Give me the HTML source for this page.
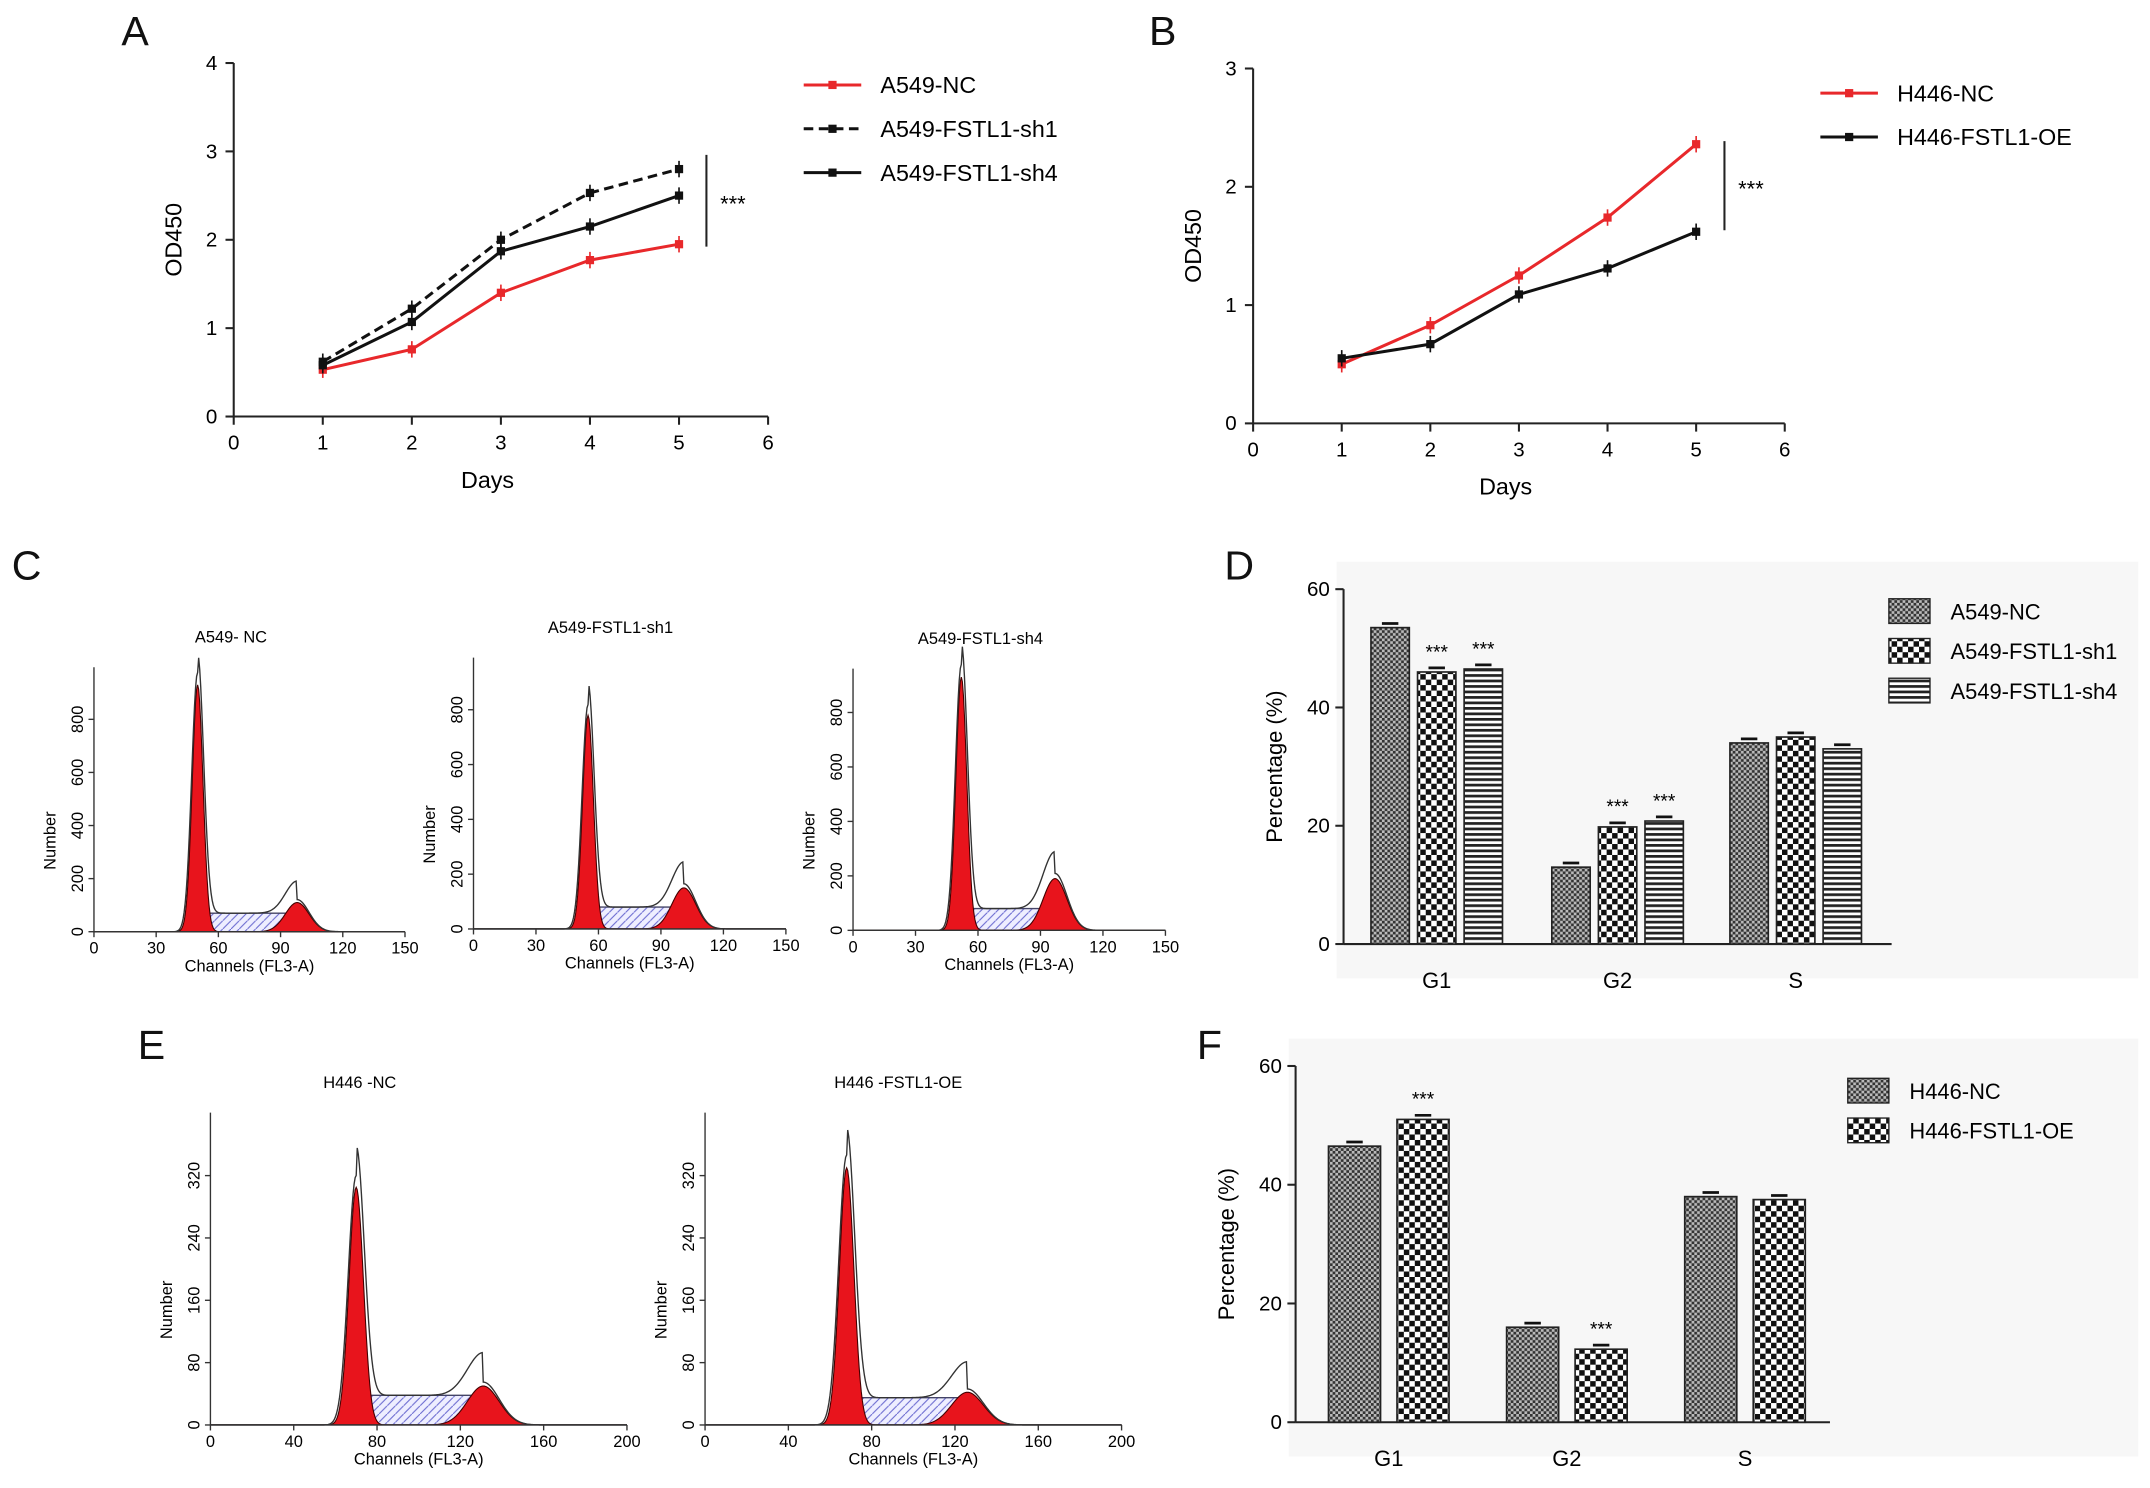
<!DOCTYPE html>
<html><head><meta charset="utf-8"><style>
html,body{margin:0;padding:0;background:#fff}
svg{display:block;font-family:"Liberation Sans",Arial,sans-serif}
</style></head><body>
<svg id="fig" width="2150" height="1488" viewBox="0 0 1568 1086" xmlns="http://www.w3.org/2000/svg">
<defs>
<pattern id="pNC" width="4" height="4" patternUnits="userSpaceOnUse"><rect width="4" height="4" fill="#bbb"/><rect width="2" height="2" fill="#333"/><rect x="2" y="2" width="2" height="2" fill="#333"/></pattern>
<pattern id="pSH1" width="8" height="8" patternUnits="userSpaceOnUse"><rect width="8" height="8" fill="#fff"/><rect width="4" height="4" fill="#111"/><rect x="4" y="4" width="4" height="4" fill="#111"/></pattern>
<pattern id="pSH4" width="4" height="4" patternUnits="userSpaceOnUse"><rect width="4" height="4" fill="#fff"/><rect width="4" height="2" fill="#222"/></pattern>
<pattern id="pS" width="6" height="6" patternUnits="userSpaceOnUse"><rect width="6" height="6" fill="#eef"/><path d="M0 6L6 0" stroke="#6a6ad0" stroke-width="0.8"/></pattern>
</defs>
<g id="root"></g>
</svg>
<script>
// ---- Data ----
const days = [1,2,3,4,5];
const a549NC  = [0.53,0.76,1.40,1.77,1.95];
const a549sh1 = [0.62,1.22,2.00,2.53,2.80];
const a549sh4 = [0.58,1.07,1.87,2.15,2.50];
const h446NC  = [0.50,0.83,1.25,1.74,2.36];
const h446OE  = [0.55,0.67,1.09,1.31,1.62];
const phases = ["G1","G2","S"];
const dNC  = [53.5,13.0,34.0];
const dSH1 = [46.0,19.8,35.0];
const dSH4 = [46.5,20.8,33.0];
const fNC  = [46.5,16.0,38.0];
const fOE  = [51.0,12.3,37.5];
// flow histogram fit params: [G1 channel, G1 height, G2 channel, G2 height, S level]
const histC1 = [50,930,98,110,70];
const histC2 = [55,780,101,150,80];
const histC3 = [52,930,97,190,80];
const histE1 = [70,305,131,50,38];
const histE2 = [68,330,126,42,35];

const NS="http://www.w3.org/2000/svg";
const root=document.getElementById('root');
function el(tag,attrs,parent,txt){const e=document.createElementNS(NS,tag);for(const k in attrs)e.setAttribute(k,attrs[k]);if(txt!==undefined)e.textContent=txt;(parent||root).appendChild(e);return e;}
function label(x,y,t,size,name,extra){const e=el('text',Object.assign({x:x,y:y,'font-size':size,fill:'#111'},extra||{}),root,t);return e;}

// panel letters
[["A",88,33],["B",838,33],["C",8,423],["D",893,423],["E",100,773],["F",873,773]].forEach(p=>{label(p[1],p[2],p[0],30,'panel-label-'+p[0].toLowerCase());});

// ---- Line charts ----
function lineChart(o){
  const g=el('g',{});
  const sx=v=>o.x0+(v/6)*(o.x1-o.x0), sy=v=>o.y0-(v/o.ymax)*(o.y0-o.y1);
  el('line',{x1:o.x0,y1:o.y0,x2:o.x1,y2:o.y0,stroke:'#222','stroke-width':1.5},g);
  el('line',{x1:o.x0,y1:o.y0,x2:o.x0,y2:o.y1,stroke:'#222','stroke-width':1.5},g);
  for(let i=0;i<=6;i++){el('line',{x1:sx(i),y1:o.y0,x2:sx(i),y2:o.y0+6,stroke:'#222','stroke-width':1.5},g);const t=el('text',{x:sx(i),y:o.y0+24,'font-size':15,'text-anchor':'middle'},g,String(i));}
  for(let i=0;i<=o.ymax;i++){el('line',{x1:o.x0-6,y1:sy(i),x2:o.x0,y2:sy(i),stroke:'#222','stroke-width':1.5},g);const t=el('text',{x:o.x0-12,y:sy(i)+5,'font-size':15,'text-anchor':'end'},g,String(i));}
  const xt=el('text',{x:sx(2.85),y:o.y0+52,'font-size':17,'text-anchor':'middle'},g,'Days');
  const yx=o.x0-38,yy=(o.y0+o.y1)/2;const yt=el('text',{x:yx,y:yy,'font-size':17,'text-anchor':'middle',transform:`rotate(-90 ${yx} ${yy})`},g,'OD450');
  o.series.forEach((s,si)=>{
    const pts=days.map((d,i)=>sx(d)+','+sy(s.vals[i])).join(' ');
    const pl=el('polyline',{points:pts,fill:'none',stroke:s.color,'stroke-width':2.2,'stroke-dasharray':s.dash||'none'},g);
    
    days.forEach((d,i)=>{const m=el('rect',{x:sx(d)-3,y:sy(s.vals[i])-3,width:6,height:6,fill:s.color},g);
      el('line',{x1:sx(d),y1:sy(s.vals[i])-6,x2:sx(d),y2:sy(s.vals[i])+6,stroke:s.color,'stroke-width':1.2},g);});
    const ly=o.ly+si*32;
    el('line',{x1:o.lx,y1:ly,x2:o.lx+42,y2:ly,stroke:s.color,'stroke-width':2.2,'stroke-dasharray':s.dash||'none'},g);
    el('rect',{x:o.lx+18,y:ly-3,width:6,height:6,fill:s.color},g);
    const lt=el('text',{x:o.lx+56,y:ly+6,'font-size':17},g,s.label);
  });
  el('line',{x1:o.sigX,y1:o.sigY0,x2:o.sigX,y2:o.sigY1,stroke:'#222','stroke-width':1.5},g);
  const st=el('text',{x:o.sigX+10,y:(o.sigY0+o.sigY1)/2+8,'font-size':16},g,'***');
}
lineChart({name:'chart-a',x0:170,x1:560,y0:304,y1:46,ymax:4,lx:586,ly:62,sigX:515,sigY0:113,sigY1:180,
 series:[{key:'a549-nc',label:'A549-NC',vals:a549NC,color:'#e8282b'},{key:'a549-sh1',label:'A549-FSTL1-sh1',vals:a549sh1,color:'#111',dash:'7,4'},{key:'a549-sh4',label:'A549-FSTL1-sh4',vals:a549sh4,color:'#111'}]});
lineChart({name:'chart-b',x0:914,x1:1302,y0:309,y1:50,ymax:3,lx:1328,ly:68,sigX:1258,sigY0:103,sigY1:168,
 series:[{key:'h446-nc',label:'H446-NC',vals:h446NC,color:'#e8282b'},{key:'h446-oe',label:'H446-FSTL1-OE',vals:h446OE,color:'#111'}]});

// ---- Bar charts ----
function barChart(o){
  const g=el('g',{});
  el('rect',{x:o.x0-5,y:o.y1-20,width:o.bgw,height:o.y0-o.y1+45,fill:'#f7f7f7'},g);
  const sy=v=>o.y0-(v/60)*(o.y0-o.y1);
  el('line',{x1:o.x0,y1:o.y0,x2:o.x1,y2:o.y0,stroke:'#222','stroke-width':1.5},g);
  el('line',{x1:o.x0,y1:o.y0,x2:o.x0,y2:o.y1,stroke:'#222','stroke-width':1.5},g);
  [0,20,40,60].forEach(v=>{el('line',{x1:o.x0-6,y1:sy(v),x2:o.x0,y2:sy(v),stroke:'#222','stroke-width':1.5},g);const t=el('text',{x:o.x0-10,y:sy(v)+5,'font-size':15,'text-anchor':'end'},g,String(v));});
  const yx=o.x0-45,yy=(o.y0+o.y1)/2;const yt=el('text',{x:yx,y:yy,'font-size':16,'text-anchor':'middle',transform:`rotate(-90 ${yx} ${yy})`},g,'Percentage (%)');
  const n=o.series.length;
  phases.forEach((p,pi)=>{
    const c=o.gc[pi];
    const t=el('text',{x:c,y:o.y0+32,'font-size':16,'text-anchor':'middle'},g,p);
    o.series.forEach((s,si)=>{
      const cx=c+(si-(n-1)/2)*o.step, v=s.vals[pi];
      const b=el('rect',{x:cx-o.bw/2,y:sy(v),width:o.bw,height:sy(0)-sy(v),fill:`url(#${s.pat})`,stroke:'#222','stroke-width':1.2},g);
      
      el('line',{x1:cx-6,y1:sy(v)-3,x2:cx+6,y2:sy(v)-3,stroke:'#111','stroke-width':2},g);
      if(o.sig.some(q=>q[0]===si&&q[1]===pi)){const m=el('text',{x:cx,y:sy(v)-10,'font-size':14,'text-anchor':'middle'},g,'***');}
    });
  });
  o.series.forEach((s,si)=>{const ly=o.ly+si*29;el('rect',{x:o.lx,y:ly-9,width:30,height:18,fill:`url(#${s.pat})`,stroke:'#222','stroke-width':1},g);
    const lt=el('text',{x:o.lx+45,y:ly+6,'font-size':16},g,s.label);});
}
barChart({name:'chart-d',x0:980,x1:1380,y0:689,y1:430,bgw:585,gc:[1048,1180,1310],step:34,bw:28,lx:1378,ly:446,
 series:[{key:'a549-nc',label:'A549-NC',vals:dNC,pat:'pNC'},{key:'a549-sh1',label:'A549-FSTL1-sh1',vals:dSH1,pat:'pSH1'},{key:'a549-sh4',label:'A549-FSTL1-sh4',vals:dSH4,pat:'pSH4'}],
 sig:[[1,0],[2,0],[1,1],[2,1]]});
barChart({name:'chart-f',x0:945,x1:1335,y0:1038,y1:778,bgw:620,gc:[1013,1143,1273],step:50,bw:38,lx:1348,ly:796,
 series:[{key:'h446-nc',label:'H446-NC',vals:fNC,pat:'pNC'},{key:'h446-oe',label:'H446-FSTL1-OE',vals:fOE,pat:'pSH1'}],
 sig:[[1,0],[1,1]]});

// ---- Flow histograms ----
function hist(o){
  const g=el('g',{});
  const [c1,h1,c2,h2,sl]=o.p;
  const sx=v=>o.x0+v/o.xmax*(o.x1-o.x0), sy=v=>o.y0-v*o.k;
  const w1=o.xmax/75*1.3, w2=w1*2.2;
  const gaus=(x,c,h,w)=>h*Math.exp(-0.5*((x-c)/w)**2);
  const sFn=x=>(x>c1&&x<c2)?sl:0;
  let g1='',g2='',sp='',tot='';
  for(let x=0;x<=o.xmax;x+=0.5){
    g1+=`${sx(x)},${sy(gaus(x,c1,h1,w1))} `;g2+=`${sx(x)},${sy(gaus(x,c2,h2,w2))} `;
    sp+=`${sx(x)},${sy(sFn(x))} `;
    tot+=`${sx(x)},${sy(gaus(x,c1,h1*1.05,w1*1.1)+gaus(x,c2,h2*1.1,w2)+Math.min(sFn(x),sl))} `;
  }
  el('polygon',{points:`${sx(0)},${o.y0} `+sp+`${sx(o.xmax)},${o.y0}`,fill:'url(#pS)',stroke:'#446'},g);
  el('polygon',{points:`${sx(0)},${o.y0} `+g1+`${sx(o.xmax)},${o.y0}`,fill:'#e8141c',stroke:'#400','stroke-width':0.8},g);
  el('polygon',{points:`${sx(0)},${o.y0} `+g2+`${sx(o.xmax)},${o.y0}`,fill:'#e8141c',stroke:'#400','stroke-width':0.8},g);
  el('polyline',{points:tot,fill:'none',stroke:'#333','stroke-width':1},g);
  el('line',{x1:o.x0,y1:o.y0,x2:o.x1,y2:o.y0,stroke:'#333'},g);
  el('line',{x1:o.x0,y1:o.y0,x2:o.x0,y2:o.ytop,stroke:'#333'},g);
  for(let v=0;v<=o.xmax;v+=o.xs){el('line',{x1:sx(v),y1:o.y0,x2:sx(v),y2:o.y0+4,stroke:'#333'},g);const t=el('text',{x:sx(v),y:o.y0+16,'font-size':12,'text-anchor':'middle'},g,String(v));}
  o.yt.forEach(v=>{el('line',{x1:o.x0-4,y1:sy(v),x2:o.x0,y2:sy(v),stroke:'#333'},g);const t=el('text',{x:o.x0-8,y:sy(v),'font-size':12,'text-anchor':'middle',transform:`rotate(-90 ${o.x0-8} ${sy(v)})`},g,String(v));});
  const xt=el('text',{x:(o.x0+o.x1)/2,y:o.y0+29,'font-size':12,'text-anchor':'middle'},g,'Channels  (FL3-A)');
  const yx=o.x0-28,yy=(o.y0+o.ytop)/2+30;const yt=el('text',{x:yx,y:yy,'font-size':12,'text-anchor':'middle',transform:`rotate(-90 ${yx} ${yy})`},g,'Number');
  const tt=el('text',{x:o.tx,y:o.ytop-18,'font-size':12,'text-anchor':'middle'},g,o.title);
}
hist({name:'histogram-c-nc',p:histC1,x0:68,x1:295,y0:680,ytop:487,xmax:150,xs:30,k:155/800,yt:[0,200,400,600,800],title:'A549- NC',tx:168});
hist({name:'histogram-c-sh1',p:histC2,x0:345,x1:573,y0:678,ytop:480,xmax:150,xs:30,k:160/800,yt:[0,200,400,600,800],title:'A549-FSTL1-sh1',tx:445});
hist({name:'histogram-c-sh4',p:histC3,x0:622,x1:850,y0:679,ytop:488,xmax:150,xs:30,k:159/800,yt:[0,200,400,600,800],title:'A549-FSTL1-sh4',tx:715});
hist({name:'histogram-e-nc',p:histE1,x0:153,x1:457,y0:1040,ytop:812,xmax:200,xs:40,k:182/320,yt:[0,80,160,240,320],title:'H446 -NC',tx:262});
hist({name:'histogram-e-oe',p:histE2,x0:514,x1:818,y0:1040,ytop:812,xmax:200,xs:40,k:182/320,yt:[0,80,160,240,320],title:'H446 -FSTL1-OE',tx:655});
</script>
</body></html>
